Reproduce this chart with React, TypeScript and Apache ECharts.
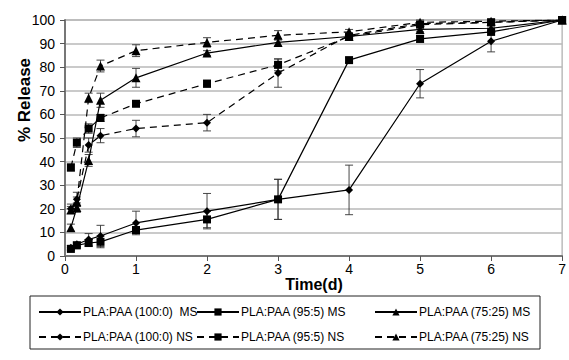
import React, { useEffect, useRef } from "react";
import * as echarts from "echarts";

const times = [0.083, 0.167, 0.333, 0.5, 1, 2, 3, 4, 5, 6, 7];
const xTicks = [0, 1, 2, 3, 4, 5, 6, 7];

const ms100 = [3.5, 5, 7, 8.5, 14, 19, 24, 28, 73, 91, 100];
const ms100Err = [1, 1, 2.5, 4.5, 5, 7.5, 8.5, 10.5, 6, 4.5, 0];
const ms95 = [3, 4.5, 5.5, 6, 11, 15.5, 24, 83, 92, 95, 100];
const ms95Err = [0.5, 1, 1.5, 2.5, 1.5, 3.5, 8.5, 1, 1.5, 1.5, 0];
const ms75 = [12, 20.5, 40.5, 66, 75.5, 86, 90.5, 93, 96, 96.5, 100];
const ms75Err = [1.5, 2, 2.5, 3, 4, 1, 1.5, 1, 1, 1, 0];
const ns100 = [20, 24, 47, 51, 54, 56.5, 77.5, 93.5, 98.5, 99, 100];
const ns100Err = [2, 3, 3, 3, 3.5, 3.5, 6, 1, 1, 1, 0];
const ns95 = [37.5, 48, 54, 58.5, 64.5, 73, 81, 93, 98, 99, 100];
const ns95Err = [1.5, 2, 2, 1.5, 1, 1.5, 2.5, 1, 1, 1, 0];
const ns75 = [19.5, 23, 67, 80.5, 87, 90.5, 93.5, 95, 99, 99.5, 100];
const ns75Err = [1.5, 2, 2, 2.5, 2.5, 2, 2, 1, 1, 1, 0];

const names = [
  "PLA:PAA (100:0)  MS",
  "PLA:PAA (95:5) MS",
  "PLA:PAA (75:25) MS",
  "PLA:PAA (100:0) NS",
  "PLA:PAA (95:5) NS",
  "PLA:PAA (75:25) NS",
];

const FONT = "Liberation Sans, Arial, sans-serif";

export default function App() {
  const ref = useRef<HTMLDivElement>(null);
  useEffect(() => {
    if (!ref.current) return;
    const chart = echarts.init(ref.current, undefined, { renderer: "svg" });
    const defs = [
      { name: names[0], v: ms100, e: ms100Err, sym: "diamond", size: 8, dash: "solid" },
      { name: names[1], v: ms95, e: ms95Err, sym: "rect", size: 8, dash: "solid" },
      { name: names[2], v: ms75, e: ms75Err, sym: "triangle", size: 9, dash: "solid" },
      { name: names[3], v: ns100, e: ns100Err, sym: "diamond", size: 8, dash: [7, 5] },
      { name: names[4], v: ns95, e: ns95Err, sym: "rect", size: 8, dash: [7, 5] },
      { name: names[5], v: ns75, e: ns75Err, sym: "triangle", size: 9, dash: [7, 5] },
    ];
    const lineSeries = defs.map((d) => ({
      name: d.name,
      type: "line",
      data: times.map((t, i) => [t, d.v[i]]),
      symbol: d.sym,
      symbolSize: d.size,
      showAllSymbol: true,
      itemStyle: { color: "#000" },
      lineStyle: { color: "#000", width: 1.2, type: d.dash },
      z: 3,
    }));
    const errSeries = defs.map((d) => ({
      type: "custom",
      name: d.name + " err",
      data: times
        .map((t, i) => [t, d.v[i] - d.e[i], d.v[i] + d.e[i]])
        .filter((_, i) => d.e[i] > 0),
      renderItem: (params: any, api: any) => {
        const x = api.value(0);
        const p1 = api.coord([x, api.value(2)]);
        const p2 = api.coord([x, api.value(1)]);
        const w = 4;
        const st = { stroke: "#333", lineWidth: 0.9 };
        return {
          type: "group",
          children: [
            { type: "line", shape: { x1: p1[0], y1: p1[1], x2: p2[0], y2: p2[1] }, style: st },
            { type: "line", shape: { x1: p1[0] - w, y1: p1[1], x2: p1[0] + w, y2: p1[1] }, style: st },
            { type: "line", shape: { x1: p2[0] - w, y1: p2[1], x2: p2[0] + w, y2: p2[1] }, style: st },
          ],
        };
      },
      z: 2,
      silent: true,
    }));
    const legendPos = [
      [33, 301],
      [191, 301],
      [369, 301],
      [33, 326],
      [191, 326],
      [369, 326],
    ];
    const legends = names.map((n, i) => ({
      data: [n],
      left: legendPos[i][0],
      top: legendPos[i][1],
      itemWidth: 42,
      itemHeight: 9,
      itemGap: 0,
      textStyle: { fontSize: 12, color: "#000", fontFamily: FONT, padding: [0, 0, 0, -3] },
      selectedMode: false,
    }));
    chart.setOption({
      animation: false,
      grid: {
        left: 65,
        right: 5,
        top: 20,
        bottom: 104,
        show: true,
        borderColor: "#999",
        borderWidth: 1,
      },
      xAxis: {
        type: "value",
        min: 0,
        max: 7,
        interval: 1,
        axisLine: { show: true, lineStyle: { color: "#777", width: 2 } },
        axisTick: { show: true, inside: false, length: 5, lineStyle: { color: "#555" } },
        axisLabel: {
          fontSize: 14,
          color: "#000",
          fontFamily: FONT,
          margin: 6,
          formatter: (v: number) => (xTicks.includes(v) ? String(v) : ""),
        },
        splitLine: { show: false },
      },
      yAxis: {
        type: "value",
        min: 0,
        max: 100,
        interval: 10,
        axisLine: { show: true, lineStyle: { color: "#777", width: 2 } },
        axisTick: { show: true, inside: false, length: 5, lineStyle: { color: "#555" } },
        axisLabel: { fontSize: 14, color: "#000", fontFamily: FONT, margin: 10 },
        splitLine: { show: true, lineStyle: { color: "#b8b8b8", width: 1.6 } },
      },
      legend: legends,
      graphic: [
        {
          type: "rect",
          shape: { x: 30, y: 296, width: 510, height: 53 },
          style: { fill: "none", stroke: "#222", lineWidth: 1 },
          silent: true,
        },
        {
          type: "text",
          x: 314,
          y: 284,
          style: {
            text: "Time(d)",
            font: `bold 16px ${FONT}`,
            fill: "#000",
            align: "center",
            verticalAlign: "middle",
          },
        },
        {
          type: "text",
          x: 24,
          y: 100,
          rotation: Math.PI / 2,
          style: {
            text: "% Release",
            font: `bold 17px ${FONT}`,
            fill: "#000",
            align: "center",
            verticalAlign: "middle",
          },
        },
      ],
      series: [...errSeries, ...lineSeries],
    });
    return () => chart.dispose();
  }, []);
  return (
    <div
      ref={ref}
      style={{ width: 569, height: 360, position: "absolute", left: 0, top: 0 }}
    />
  );
}
